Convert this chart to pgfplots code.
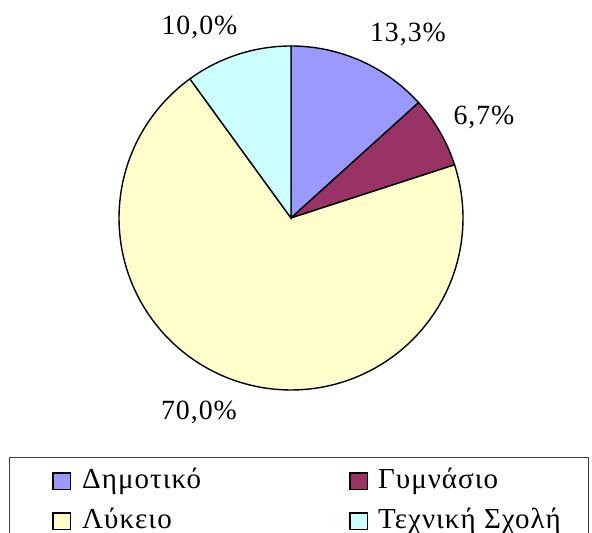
\documentclass[border=0pt]{standalone}
\usepackage{fontspec}
\setmainfont{Liberation Serif}[LetterSpace=3.5]
\usepackage{pgfplots}
\pgfplotsset{compat=1.18}
\definecolor{cDim}{HTML}{9999FF}
\definecolor{cGym}{HTML}{993366}
\definecolor{cLyk}{HTML}{FFFFCC}
\definecolor{cTex}{HTML}{CCFFFF}
% data (percent)
\def\vA{13.3}\def\vB{6.7}\def\vC{70.0}\def\vD{10.0}
\pgfmathsetmacro{\aA}{90}
\pgfmathsetmacro{\aB}{\aA-3.6*\vA}
\pgfmathsetmacro{\aC}{\aB-3.6*\vB}
\pgfmathsetmacro{\aD}{\aC-3.6*\vC}
\pgfmathsetmacro{\aE}{\aD-3.6*\vD}
\def\cx{291}\def\cy{315}\def\R{172}
\begin{document}
\begin{tikzpicture}[font=\fontsize{27.8}{33}\selectfont]
\begin{axis}[
  xmin=0, xmax=592, ymin=0, ymax=533,
  width=592pt, height=533pt, scale only axis,
  hide axis, clip=false,
  legend columns=2,
  legend style={draw=none, fill=none, at={(axis cs:52,65)}, anchor=north west,
    inner sep=0pt, row sep=13pt, column sep=0pt,
    nodes={inner sep=0pt, text height=20pt, text depth=7pt, anchor=base west},
    font=\fontsize{29}{34}\selectfont},
  legend image code/.code={\draw[#1] (0.7pt,-1.3pt) rectangle (18.3pt,15.3pt);},
]
\addplot[fill=cDim, draw=black, line width=1.4pt, domain=\aB:\aA, samples=40]
  ({\cx+\R*cos(x)},{\cy+\R*sin(x)}) -- (axis cs:\cx,\cy) -- cycle;
\addlegendentry{\makebox[278pt][l]{\hspace{11pt}Δημοτικό}}
\addplot[fill=cGym, draw=black, line width=1.4pt, domain=\aC:\aB, samples=30]
  ({\cx+\R*cos(x)},{\cy+\R*sin(x)}) -- (axis cs:\cx,\cy) -- cycle;
\addlegendentry{\makebox[200pt][l]{\hspace{10pt}Γυμνάσιο}}
\addplot[fill=cLyk, draw=black, line width=1.4pt, domain=\aD:\aC, samples=150]
  ({\cx+\R*cos(x)},{\cy+\R*sin(x)}) -- (axis cs:\cx,\cy) -- cycle;
\addlegendentry{\makebox[278pt][l]{\hspace{11pt}Λύκειο}}
\addplot[fill=cTex, draw=black, line width=1.4pt, domain=\aE:\aD, samples=30]
  ({\cx+\R*cos(x)},{\cy+\R*sin(x)}) -- (axis cs:\cx,\cy) -- cycle;
\addlegendentry{\makebox[200pt][l]{\hspace{10pt}Τεχνική Σχολή}}
\node[anchor=base] at (axis cs:408,491) {13,3\%};
\node[anchor=base] at (axis cs:484,408) {6,7\%};
\node[anchor=base] at (axis cs:199,113) {70,0\%};
\node[anchor=base] at (axis cs:199.5,498) {10,0\%};
\draw[black!75, line width=1pt] (axis cs:9,75) rectangle (axis cs:588,-30);
\end{axis}
\pgfresetboundingbox
\useasboundingbox (0,0) rectangle (592pt,533pt);
\end{tikzpicture}
\end{document}
